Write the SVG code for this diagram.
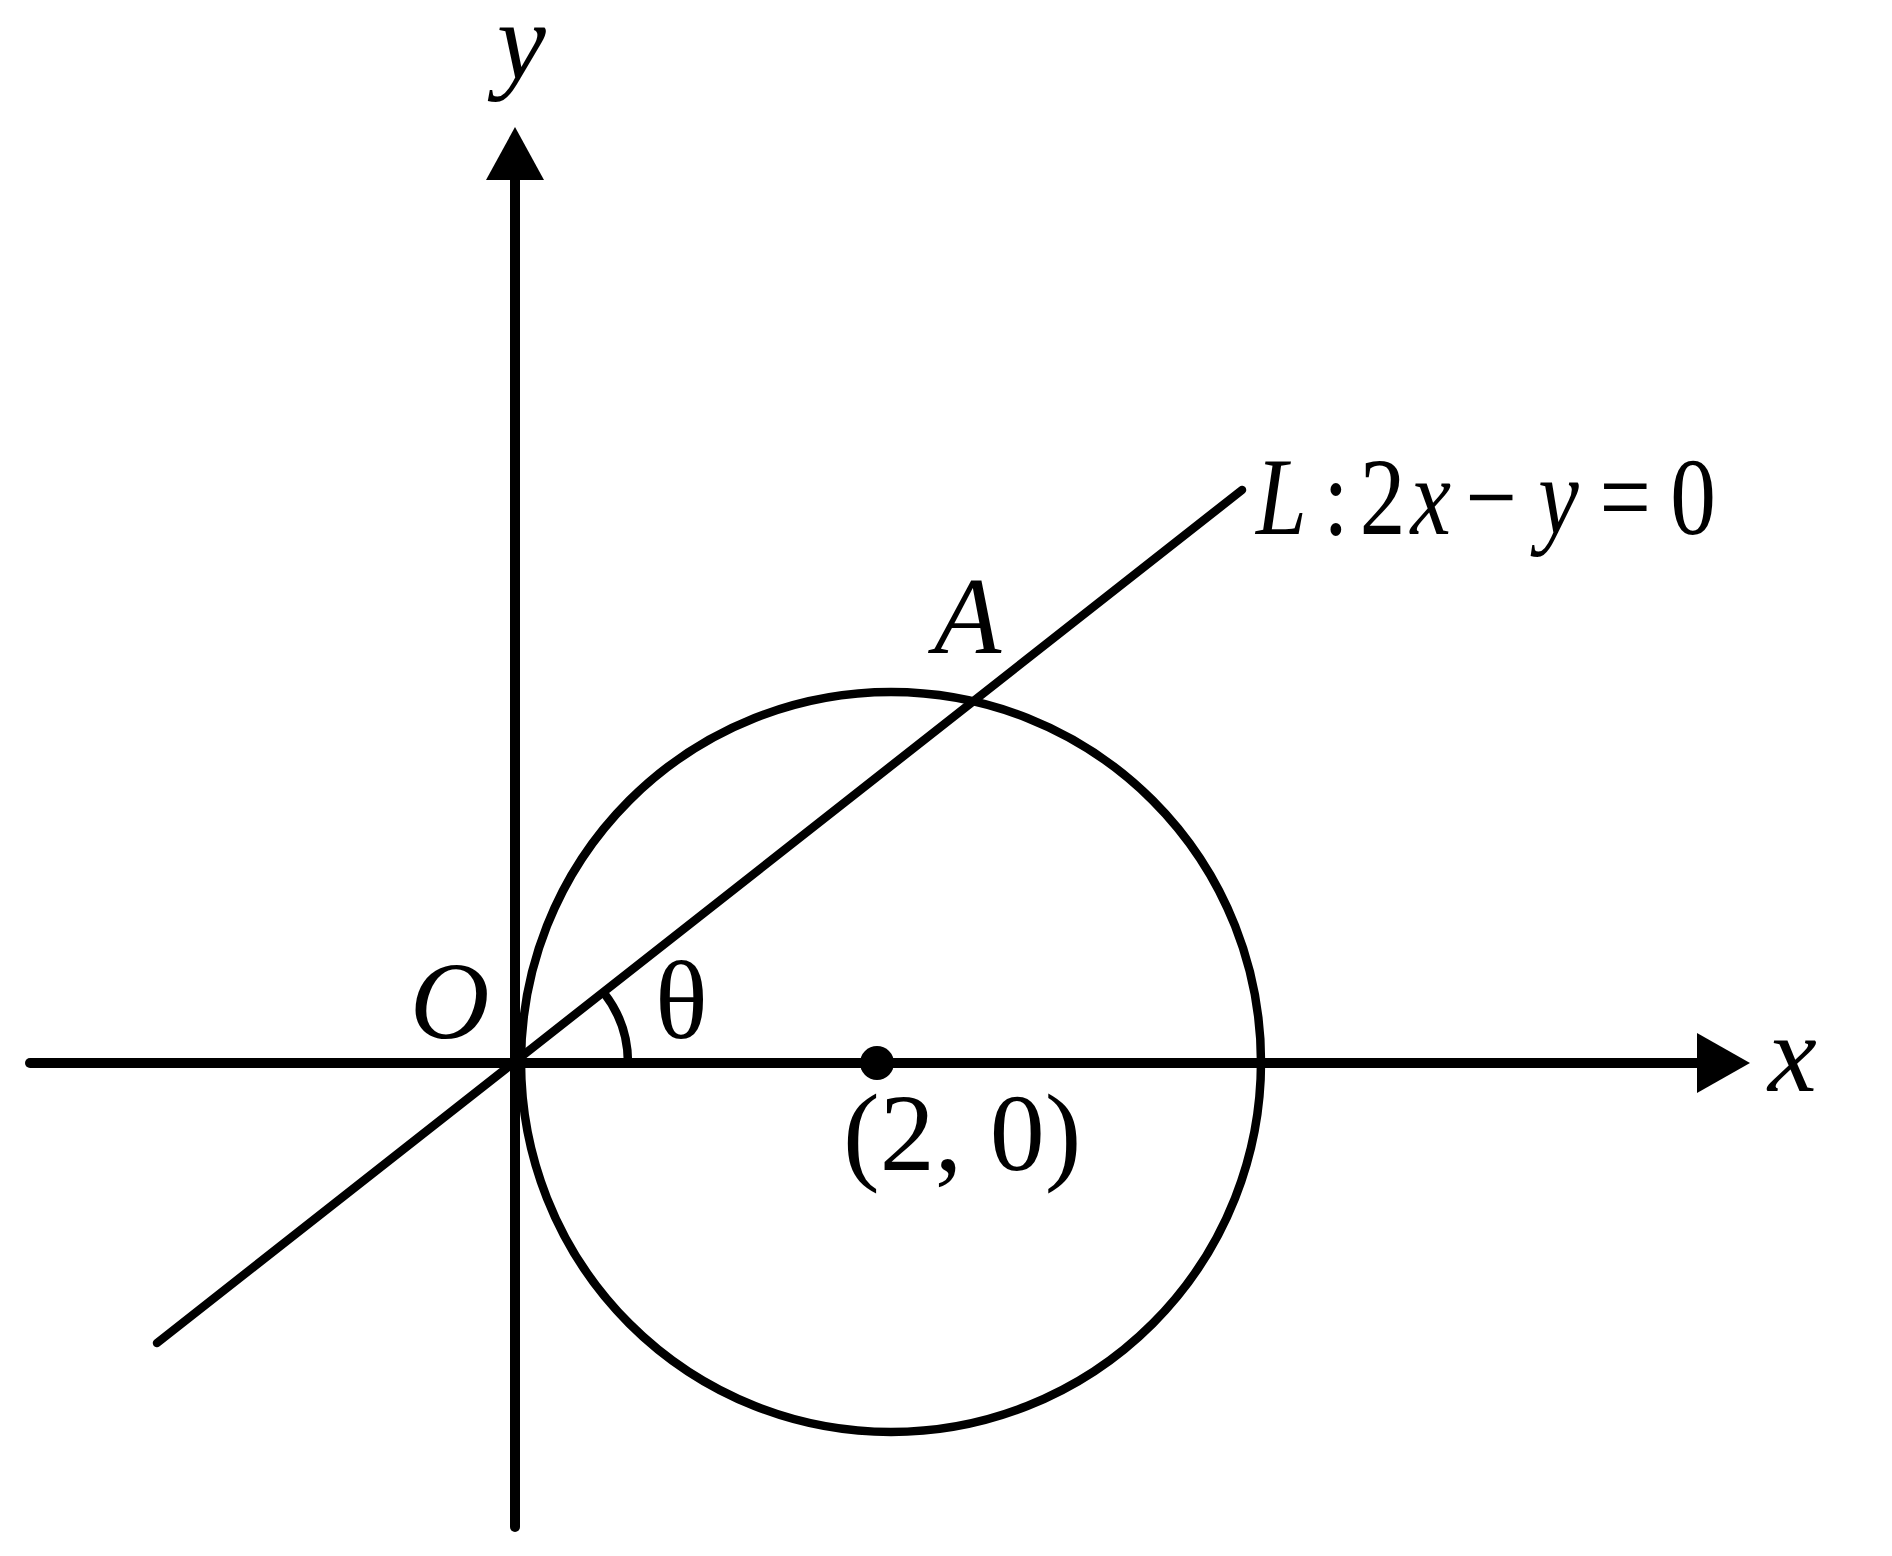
<svg xmlns="http://www.w3.org/2000/svg" width="1892" height="1556" viewBox="0 0 1892 1556">
<style>
.ax{stroke:#000;stroke-width:10;fill:none;stroke-linecap:round}
.ln{stroke:#000;stroke-width:8.5;fill:none;stroke-linecap:round}
text{font-family:'Liberation Serif','Times New Roman',serif;font-size:110px;fill:#000}
.i{font-style:italic}
</style>
<rect width="1892" height="1556" fill="#fff"/>
<g id="axes">
<line class="ax" x1="515" y1="175" x2="515" y2="1527"/>
<polygon points="515,127 486,180 544,180" fill="#000"/>
<line class="ax" x1="30" y1="1063" x2="1700" y2="1063"/>
<polygon points="1750,1063 1697,1033 1697,1093" fill="#000"/>
</g>
<g id="circle">
<circle class="ln" cx="891" cy="1062" r="370"/>
</g>
<g id="connectors">
<line class="ln" x1="157" y1="1343" x2="1242" y2="490"/>
<path class="ln" stroke-width="7" d="M604,993 A113,113 0 0 1 628,1063"/>
</g>
<g id="center">
<circle cx="877" cy="1063" r="17" fill="#000"/>
</g>
<g id="labels">
<text class="i" x="497" y="79">y</text>
<text class="i" x="1768" y="1091">x</text>
<text class="i" x="410" y="1038">O</text>
<text x="655" y="1038">θ</text>
<text class="i" x="934" y="653">A</text>
<text x="843" y="1170">(2, 0)</text>
<g transform="translate(1256 534) scale(0.83 1)">
<text><tspan class="i" x="0" y="0">L</tspan><tspan x="81" y="0">:</tspan><tspan x="125" y="0">2</tspan><tspan class="i" x="186" y="0">x</tspan><tspan x="252" y="0">−</tspan><tspan class="i" x="340" y="0">y</tspan><tspan x="414" y="0">=</tspan><tspan x="499" y="0">0</tspan></text>
</g>
</g>
</svg>
